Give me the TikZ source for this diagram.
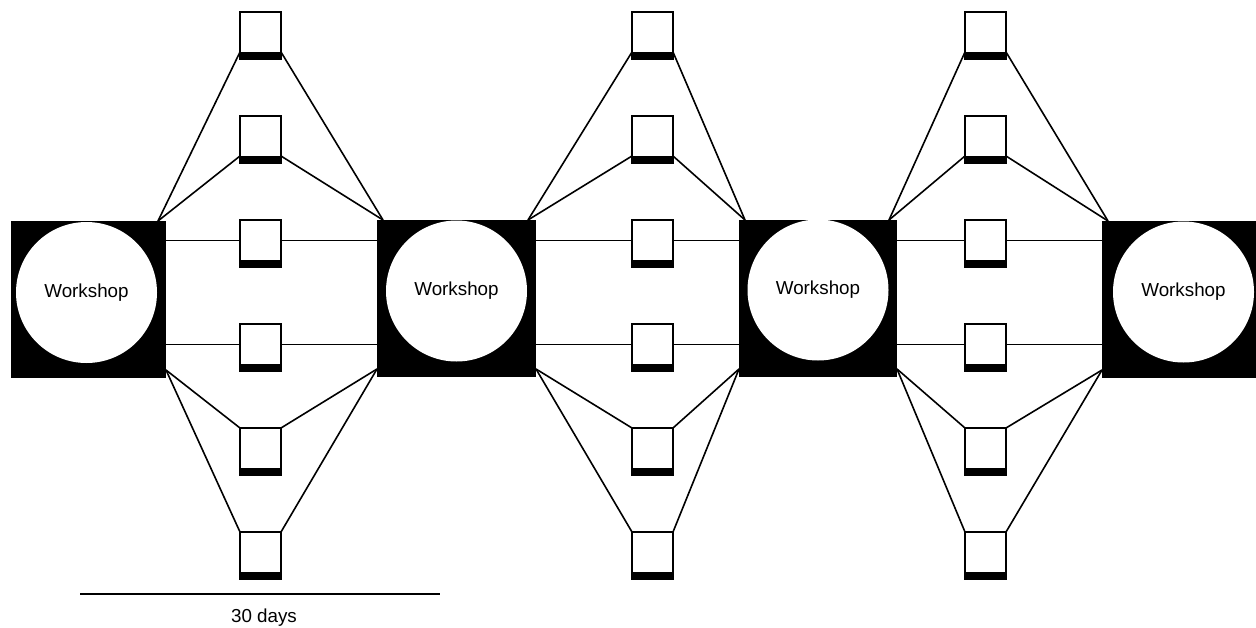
\documentclass[tikz,border=0pt]{standalone}
\usepackage{fontspec}
\setmainfont{Liberation Sans}
\begin{document}
\begin{tikzpicture}[x=1pt,y=-1pt,
  wsq/.style={rectangle,fill=black,inner sep=0pt,outer sep=0pt},
  wcirc/.style={circle,fill=white,inner sep=0pt,outer sep=0pt,minimum size=141pt,font=\fontsize{18.8}{21}\selectfont},
  pbox/.style={rectangle,draw=black,line width=1.8pt,fill=white,inner sep=0pt,outer sep=0pt,
    minimum width=41pt,minimum height=47pt,
    path picture={\fill[black] (path picture bounding box.south west) rectangle ([yshift=7pt]path picture bounding box.south east);}},
  conn/.style={line width=1.6pt,draw=black}]
\useasboundingbox (0,0) rectangle (1256,627);
% workshop squares
\node[wsq,minimum width=155pt,minimum height=157pt] (w1) at (88.5,299.5) {};
\node[wsq,minimum width=159pt,minimum height=157pt] (w2) at (456.5,298.5) {};
\node[wsq,minimum width=158pt,minimum height=157pt] (w3) at (818,298.5) {};
\node[wsq,minimum width=154pt,minimum height=157pt] (w4) at (1179,299.5) {};
% circles
\node[wcirc] (c1) at (86.5,292.5) {Workshop};
\node[wcirc] (c2) at (456.5,291) {Workshop};
\node[wcirc] (c3) at (818,290) {Workshop};
\node[wcirc] (c4) at (1183.5,292) {Workshop};
% connections and boxes
\foreach \i/\bx in {1/260.5,2/652.5,3/985.5}{
  \pgfmathtruncatemacro\j{\i+1}
  \foreach \r/\by in {1/35.5,2/139.5,3/243.5,4/347.5,5/451.5,6/555.5}{
    \node[pbox] (b\i\r) at (\bx,\by) {};
  }
  \coordinate (tl\i) at ([xshift=-8pt]w\i.north east);
  \coordinate (tr\i) at ([xshift=6pt]w\j.north west);
  \coordinate (bl\i) at ([yshift=8pt]w\i.south east);
  \coordinate (br\i) at ([yshift=8pt]w\j.south west);
  \foreach \r in {1,2}{
    \draw[conn] (tl\i) -- ([yshift=7pt]b\i\r.south west);
    \draw[conn] (tr\i) -- ([yshift=7pt]b\i\r.south east);
  }
  \foreach \r in {5,6}{
    \draw[conn] (bl\i) -- (b\i\r.north west);
    \draw[conn] (br\i) -- (b\i\r.north east);
  }
  \foreach \r in {3,4}{
    \coordinate (hl\i\r) at ([yshift=3pt]b\i\r.west);
    \coordinate (hr\i\r) at ([yshift=3pt]b\i\r.east);
    \draw[conn] (hl\i\r) -- (hl\i\r -| w\i.east);
    \draw[conn] (hr\i\r) -- (hr\i\r -| w\j.west);
  }
}
% scale bar
\coordinate (sa) at (80,594);
\coordinate (sb) at (440,594);
\draw[conn] (sa) -- (sb);
\node[font=\fontsize{18.8}{21}\selectfont] (lbl) at (264,618) {30 days};
\end{tikzpicture}
\end{document}
